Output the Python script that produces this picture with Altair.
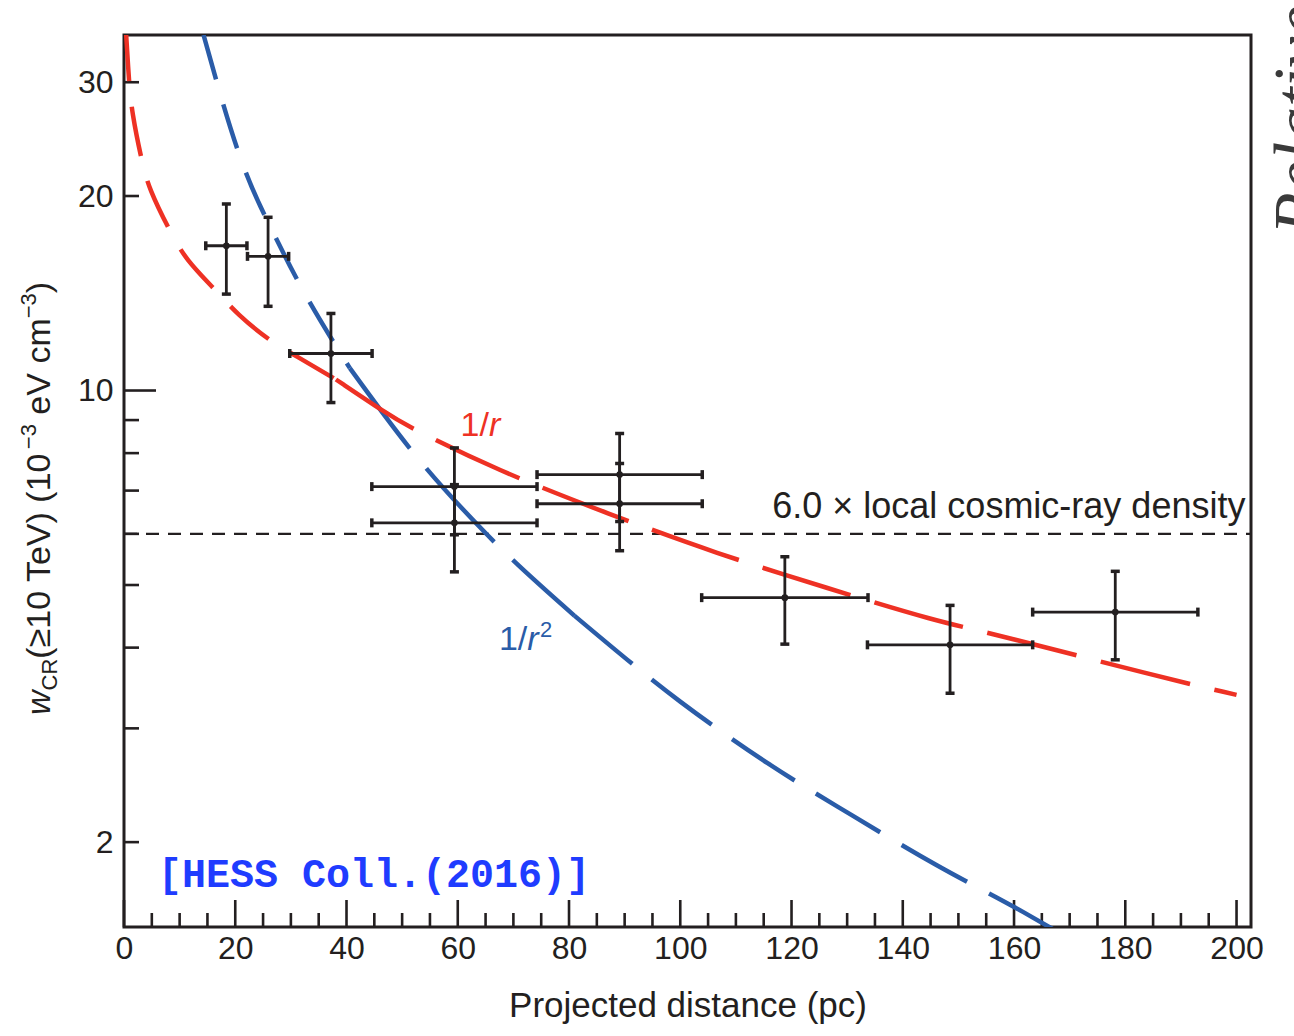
import altair as alt
import pandas as pd

FONT = "Liberation Sans"
INK = "#231f20"
RED = "#ee3124"
BLUE = "#2a5ca8"
NOTE_BLUE = "#1f3cff"

# plot area (pixels) and the margin reserved around it
PLOT_W, PLOT_H = 1127, 892
PAD = {"left": 124, "top": 35, "right": 43, "bottom": 109}

X_DOMAIN = [0, 202.6]
Y_DOMAIN = [1.478, 35.5]

# H.E.S.S. cosmic-ray energy density per projected-distance bin
dist_pc = [18.4, 25.9, 37.2, 59.4, 59.4, 89.1, 89.1, 118.8, 148.5, 178.2]
dist_half = [3.7, 3.7, 7.4, 14.85, 14.85, 14.85, 14.85, 14.95, 14.85, 14.85]
w_cr = [16.75, 16.13, 11.41, 7.10, 6.24, 7.41, 6.68, 4.78, 4.04, 4.54]
w_cr_lo = [14.1, 13.5, 9.58, 5.98, 5.24, 6.27, 5.65, 4.05, 3.40, 3.83]
w_cr_hi = [19.44, 18.54, 13.16, 8.15, 7.15, 8.58, 7.71, 5.53, 4.65, 5.25]

# projected 1/r profile
inv_r_x = [0.35, 0.9, 1.4, 3.2, 4.5, 8.3, 11.2, 16.5, 20.4, 26.4, 31.0, 38.1,
           46.9, 51.3, 67.0, 87.1, 106.6, 126.3, 146.1, 156.6, 185.7, 200.0]
inv_r_y = [36.0, 30.0, 27.0, 22.6, 20.5, 17.6, 15.9, 14.3, 13.1, 11.9, 11.3, 10.4,
           9.25, 8.77, 7.53, 6.44, 5.59, 4.95, 4.39, 4.20, 3.61, 3.38]

# projected 1/r^2 profile
inv_r2_x = [14.3, 20.9, 28.7, 40.6, 52.7, 65.3, 81.0, 100.0, 115.7, 130.9,
            146.2, 161.6, 168.0]
inv_r2_y = [35.5, 22.95, 16.3, 10.83, 7.88, 5.98, 4.48, 3.30, 2.65, 2.20,
            1.84, 1.56, 1.45]

# 6.0 x local cosmic-ray density
local_level = 6.0
local_x = [0.0, 202.6]

x_label_values = list(range(0, 201, 20))
x_ticks_major = list(range(0, 201, 20))
x_ticks_minor = [v for v in range(5, 201, 5) if v % 20]
y_label_values = [2, 10, 20, 30]
y_ticks_major = [10]
y_ticks_minor = [2, 3, 4, 5, 6, 7, 8, 9, 20, 30]

x_scale = alt.Scale(domain=X_DOMAIN, nice=False, zero=False)
y_scale = alt.Scale(type="log", domain=Y_DOMAIN, nice=False)

x_axis = alt.Axis(values=x_label_values, ticks=False, domain=False, grid=False,
                  labelFlush=False, labelOverlap=False, labelFont=FONT,
                  labelFontSize=32, labelColor=INK, labelPadding=6,
                  title="Projected distance (pc)", titleFont=FONT, titleFontSize=35,
                  titleFontWeight="normal", titleColor=INK, titlePadding=24)
y_axis = alt.Axis(values=y_label_values, ticks=False, domain=False, grid=False,
                  labelOverlap=False, labelFont=FONT, labelFontSize=32,
                  labelColor=INK, labelPadding=11, title=None)


def X(field):
    return alt.X(field, type="quantitative", scale=x_scale, axis=x_axis)


def Y(field):
    return alt.Y(field, type="quantitative", scale=y_scale, axis=y_axis)


layers = []

# ---- inward ticks on the left and bottom axes ----
for vals, length in [(x_ticks_major, 27), (x_ticks_minor, 14)]:
    layers.append(
        alt.Chart(pd.DataFrame({"v": vals})).mark_rule(color=INK, strokeWidth=2.6)
        .encode(x=X("v"), y=alt.value(PLOT_H), y2=alt.value(PLOT_H - length)))
for vals, length in [(y_ticks_major, 32), (y_ticks_minor, 15)]:
    layers.append(
        alt.Chart(pd.DataFrame({"v": vals})).mark_rule(color=INK, strokeWidth=2.6)
        .encode(y=Y("v"), x=alt.value(0), x2=alt.value(length)))

# ---- reference level ----
level_df = pd.DataFrame({"x": local_x, "y": [local_level] * len(local_x)})
layers.append(
    alt.Chart(level_df).mark_line(color=INK, strokeWidth=2.4, strokeDash=[13, 9], clip=True)
    .encode(x=X("x"), y=Y("y")))


# ---- model curves, dashed piecewise ----
def curve_parts(xs, ys, cuts):
    edges = [float("-inf")] + cuts + [float("inf")]
    parts = []
    for lo, hi in zip(edges[:-1], edges[1:]):
        parts.append(pd.DataFrame({"x": [x for x in xs if lo <= x <= hi],
                                   "y": [y for x, y in zip(xs, ys) if lo <= x <= hi]}))
    return parts


for part, dash in zip(curve_parts(inv_r2_x, inv_r2_y, [40.6, 81.0]),
                      [[46, 26], [100, 26], [75, 25]]):
    layers.append(
        alt.Chart(part).mark_line(color=BLUE, strokeWidth=4.5, strokeDash=dash,
                                  interpolate="monotone", clip=True)
        .encode(x=X("x"), y=Y("y")))

for part, dash in zip(curve_parts(inv_r_x, inv_r_y, [38.1]), [[50, 26], [92, 25]]):
    layers.append(
        alt.Chart(part).mark_line(color=RED, strokeWidth=4.5, strokeDash=dash,
                                  interpolate="basis", clip=True)
        .encode(x=X("x"), y=Y("y")))

# ---- data points with error bars ----
pts = pd.DataFrame({
    "x": dist_pc,
    "xlo": [x - h for x, h in zip(dist_pc, dist_half)],
    "xhi": [x + h for x, h in zip(dist_pc, dist_half)],
    "y": w_cr, "ylo": w_cr_lo, "yhi": w_cr_hi,
})
base = alt.Chart(pts)
layers += [
    base.mark_rule(color=INK, strokeWidth=2.8).encode(x=X("x"), y=Y("ylo"), y2="yhi"),
    base.mark_rule(color=INK, strokeWidth=2.8).encode(x=X("xlo"), x2="xhi", y=Y("y")),
    base.transform_fold(["ylo", "yhi"], as_=["k", "yv"])
        .mark_tick(orient="horizontal", color=INK, size=9, thickness=3.5, opacity=1)
        .encode(x=X("x"), y=Y("yv")),
    base.transform_fold(["xlo", "xhi"], as_=["k", "xv"])
        .mark_tick(orient="vertical", color=INK, size=9, thickness=3.5, opacity=1)
        .encode(x=X("xv"), y=Y("y")),
    base.mark_circle(color=INK, size=45, opacity=1).encode(x=X("x"), y=Y("y")),
]

# ---- curve labels ----
ARIAL = {"w": 722, "C": 722, "R": 722, "(": 333, "≥": 549, "1": 556, "0": 556,
         " ": 278, "T": 611, "e": 556, "V": 667, ")": 333, "−": 584, "3": 556,
         "c": 500, "m": 833, "/": 278, "r": 333}


def text_len(s, size):
    return sum(ARIAL[c] for c in s) * size / 1000


def label_piece(x, y, txt, color, size, style="normal", dx=0, dy=0):
    return (alt.Chart(pd.DataFrame({"x": [x], "y": [y], "t": [txt]}))
            .mark_text(align="left", baseline="alphabetic", font=FONT, fontSize=size,
                       fontStyle=style, color=color, dx=dx, dy=dy)
            .encode(x=X("x"), y=Y("y"), text="t:N"))


lab_size = 34
w_1 = text_len("1/", lab_size)
layers += [
    label_piece(60.5, 8.5, "1/", RED, lab_size),
    label_piece(60.5, 8.5, "r", RED, lab_size, "italic", dx=w_1),
    label_piece(67.4, 3.96, "1/", BLUE, lab_size),
    label_piece(67.4, 3.96, "r", BLUE, lab_size, "italic", dx=w_1),
    label_piece(67.4, 3.96, "2", BLUE, 22, dx=w_1 + text_len("r", lab_size) + 1.5, dy=-13),
]

layers.append(
    alt.Chart(pd.DataFrame({"x": [201.6], "y": [local_level],
                            "t": ["6.0 × local cosmic-ray density"]}))
    .mark_text(align="right", baseline="alphabetic", font=FONT, fontSize=36,
               color=INK, dy=-16)
    .encode(x=X("x"), y=Y("y"), text="t:N"))

# ---- y-axis title built from pieces (subscript / superscripts) ----
title_pieces = [
    ("w", 34, "italic", 0, 0),
    ("CR", 22, "normal", 7, 0),
    ("(≥10 TeV) (10", 34, "normal", 0, 0),
    ("−3", 22, "normal", -14, 0),
    ("eV cm", 34, "normal", 0, text_len(" ", 34)),
    ("−3", 22, "normal", -14, 0),
    (")", 34, "normal", 0, 0),
]
cursor = 680.0
for txt, size, style, shift, gap in title_pieces:
    cursor -= gap
    layers.append(
        alt.Chart(pd.DataFrame({"t": [txt]}))
        .mark_text(angle=270, align="left", baseline="alphabetic", font=FONT,
                   fontSize=size, fontStyle=style, color=INK)
        .encode(text="t:N", x=alt.value(-74 + shift), y=alt.value(cursor)))
    cursor -= text_len(txt, size)

# ---- source note ----
layers.append(
    alt.Chart(pd.DataFrame({"t": ["[HESS Coll.(2016)]"]}))
    .mark_text(align="left", baseline="alphabetic", font="Courier New, Liberation Mono",
               fontSize=40, fontWeight="bold", color=NOTE_BLUE)
    .encode(text="t:N", x=alt.value(34), y=alt.value(852)))

# ---- neighbouring page text, cut at the right edge ----
layers.append(
    alt.Chart(pd.DataFrame({"t": ["Relative"]}))
    .mark_text(angle=270, align="left", baseline="alphabetic", font="Liberation Serif",
               fontSize=70, fontStyle="italic", color="#3a3a3a")
    .encode(text="t:N", x=alt.value(1198), y=alt.value(200)))

chart = (
    alt.layer(*layers)
    .properties(width=PLOT_W, height=PLOT_H,
                autosize=alt.AutoSizeParams(type="none"), padding=PAD,
                background="white")
    .configure_view(stroke=INK, strokeWidth=3)
)

chart.save("out.html", embed_options={"renderer": "svg", "actions": False})
